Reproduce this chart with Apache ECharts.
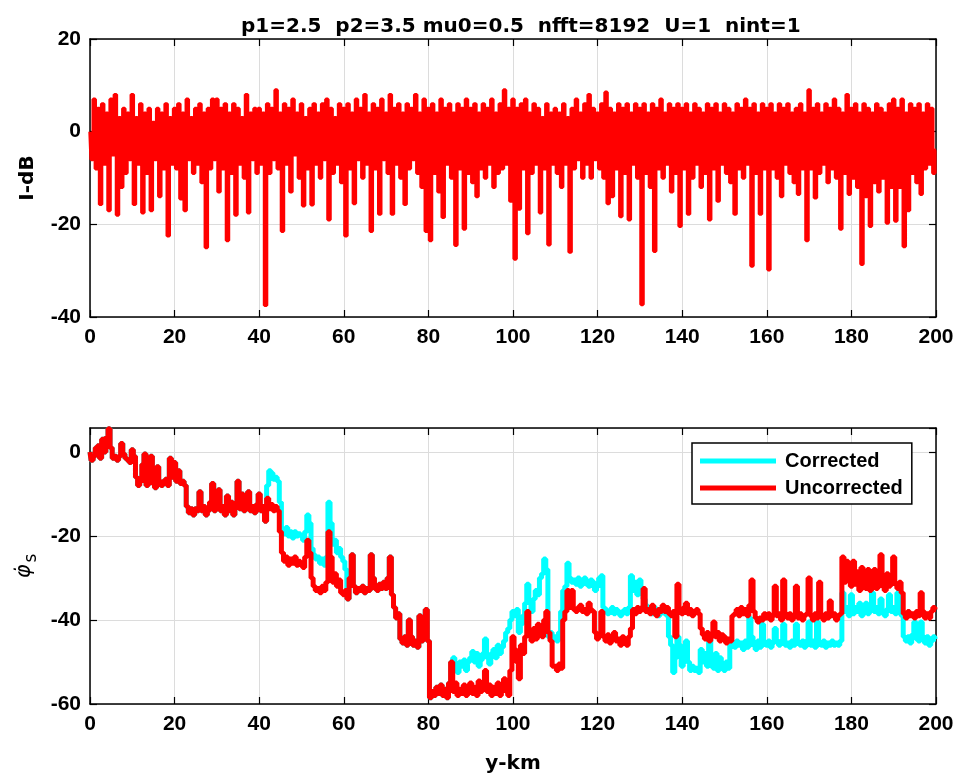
<!DOCTYPE html>
<html>
<head>
<meta charset="utf-8">
<script src="https://cdn.jsdelivr.net/npm/echarts@6/dist/echarts.min.js"></script>
<style>html,body{margin:0;padding:0;background:#fff}#c{width:958px;height:779px}</style>
</head>
<body>
<div id="c"></div>
<script>
// ---- data ----
const titleText = 'p1=2.5  p2=3.5 mu0=0.5  nfft=8192  U=1  nint=1';
const seriesNames = ['Corrected', 'Uncorrected'];
const stepTopKm = 0.5;      // sample spacing of intensity trace
const stepBottomKm = 0.5;   // sample spacing of phase traces

const intensityDb = [
  0,-6,7,-8,5,-15.7,6,-7,4,-17,7,-5,8,-18,3,-12,5,-9,4,-6,
  8,-15.7,3,-7,6,-17.5,4,-9,5,-17,2,-6,5,-14,4,-8,6,-22.5,3,-7,
  5,-8,6,-14.5,4,-17,7,-6,3,-9,5,-7,6,-11,4,-25,5,-8,7,-6,
  7,-13,5,-8,6,-23.5,4,-9,6,-18,5,-7,3,-10,8,-17.5,4,-6,5,-9,
  5,-7,4,-37.5,6,-9,5,-6,9,-8,4,-21.5,6,-7,5,-13,7,-5,4,-10,
  6,-16,3,-8,5,-15.8,6,-7,4,-10,6,-6,7,-19,5,-9,3,-7,6,-11,
  5,-22.5,6,-8,4,-15.5,7,-6,5,-10,8,-7,4,-21.5,6,-8,5,-17.8,7,-6,
  4,-9,8,-17.8,5,-7,6,-10,4,-15.7,6,-8,5,-6,8,-9,4,-12,7,-21.5,
  5,-23.5,6,-9,4,-13,7,-18.5,5,-7,6,-10,4,-24.5,6,-8,5,-21,7,-9,
  5,-11,6,-14,4,-8,6,-10,5,-7,7,-12,4,-9,6,-8,9,-7,5,-15,
  7,-27.5,5,-16.7,6,-8,7,-22,4,-9,6,-7,5,-17.5,3,-8,6,-24.4,4,-7,
  5,-9,4,-12,6,-7,3,-26,5,-8,7,-6,4,-10,6,-7,8,-10,5,-6,
  4,-8,6,-10,8.5,-15.5,5,-14,4,-8,6,-18.3,5,-9,6,-19,4,-7,6,-10,
  5,-37.3,6,-9,4,-12,6,-25.8,5,-8,7,-10,4,-7,6,-13,5,-9,6,-20.4,
  5,-8,6,-17.8,4,-10,6,-7,5,-12,4,-9,6,-19,5,-8,6,-15,4,-7,
  6,-9,5,-11,4,-17.8,6,-8,5,-10,7,-7,5,-29,6,-9,4,-17.8,6,-8,
  5,-29.8,6,-8,4,-10,6,-14,5,-7,6,-9,4,-11,5,-13.5,6,-8,4,-23.5,
  9,-8,5,-14.3,6,-9,4,-7,6,-11,5,-8,7,-10,5,-21,4,-9,8,-13.5,
  5,-10,6,-12,4,-28.6,6,-14,5,-20.4,4,-11,6,-13,5,-10,4,-19.7,6,-12,
  7,-19.3,5,-12,7,-24.8,4,-17,6,-9,5,-11,6,-13.5,4,-8,6,-7,5,-9,
  -4
];

const phaseUncorrected = [
  0,-2,-1,1,1.5,-1.5,3,0,3.5,5.5,1,-1.5,-1,-2,-1,2,-0.5,-1.5,-2,-2.5,
  0.5,-1,-6,-8,-7,-3,-0.5,-8,-6,-1,-7.5,-8.5,-3.5,-7,-8,-7,-6.5,-8,-1.5,-6,
  -2.5,-7,-4.5,-7.5,-7,-8,-13,-14.5,-13.5,-15,-13.5,-14,-9.5,-14,-13,-15,-14,-12,-7.5,-14,
  -13,-9,-14,-13,-15,-10.5,-14,-12,-15,-13,-7,-13.5,-10,-14,-13,-9.5,-14,-13,-14.5,-12.5,
  -10,-14,-13,-16.5,-11,-13.5,-12.5,-14,-13,-14,-19,-24,-26,-25,-27,-25.5,-26.5,-25,-27,-26,
  -26.5,-27.5,-25,-21,-24,-30,-32,-33,-32.5,-33.5,-32,-33,-31,-19,-25,-31,-29,-32,-30.5,-33.5,
  -34,-33,-35,-30,-24.5,-32,-33.5,-32.5,-33,-32,-33.5,-32.5,-33,-24.5,-30,-32.5,-33,-31.5,-32.5,-31,
  -32.5,-30,-25,-34,-37,-39.5,-38.5,-44.5,-45.5,-44,-46,-40,-44,-46,-45,-46.5,-39,-45,-44,-37.5,
  -45,-58.5,-57,-58,-56,-57.5,-55.5,-58,-56.5,-58.5,-55,-50,-57,-55,-58,-56.5,-57.5,-55.5,-58,-56,
  -55,-57.5,-56,-58,-54.5,-57,-55.5,-52,-57,-55.5,-58,-56,-57.5,-55,-58,-56,-54,-57,-58,-52,
  -44,-47,-50,-54,-46,-48,-44,-38,-43,-45,-42,-44.5,-41,-43,-44,-40,-38,-43,-45,-51,
  -51,-52,-50.5,-51.5,-40,-38,-33,-37,-33,-37.5,-38,-37,-36.5,-38,-37.5,-38.5,-36,-37.5,-38,-43,
  -44.5,-43.5,-38,-44,-45,-43.5,-45.5,-44,-43,-45,-44.5,-46,-44,-45.5,-46,-44,-42,-37.5,-38.5,-37,
  -38,-37,-32.5,-38,-37.5,-38.5,-36.5,-38,-39,-37.5,-38,-36.5,-38,-37,-38.5,-39,-38,-44,-31.5,-38,
  -38.5,-37,-36,-38.5,-37.5,-39,-38,-37.5,-38.5,-42,-43.5,-44.5,-43,-45,-44,-40.5,-44,-43,-45,-43.5,
  -44,-45.5,-44.5,-45,-39,-38.5,-37.5,-39,-37,-38.5,-37.5,-39,-36.5,-30.5,-38,-39.5,-40.5,-39.5,-40,-38.5,
  -39.5,-38.5,-40,-39,-32,-39,-38.5,-40,-30.5,-38.5,-39.5,-38.5,-40,-39,-32,-39.5,-38.5,-40,-39,-38.5,
  -30,-39,-40,-38.5,-39.5,-31,-39,-40,-38.5,-39.5,-35.5,-39,-38.5,-40,-39,-38.5,-25,-31,-26,-30.5,
  -32,-26,-31.5,-28.5,-33,-27.5,-31.5,-32.5,-28,-33,-31.5,-28,-32.5,-31,-24.5,-32,-33,-29,-32,-31,
  -25,-31.5,-32.5,-31,-33.5,-38.5,-39.5,-38,-39,-38.5,-39.5,-38,-39,-33.5,-38,-39.5,-38.5,-39.5,-38,-37,
  -37.5
];

const phaseCorrected = [
  0,-2,-1,1,1.5,-1.5,3,0,3.5,5.5,1,-1.5,-1,-2,-1,2,-0.5,-1.5,-2,-2.5,
  0.5,-1,-6,-8,-7,-3,-0.5,-8,-6,-1,-7.5,-8.5,-3.5,-7,-8,-7,-6.5,-8,-1.5,-6,
  -2.5,-7,-4.5,-7.5,-7,-8,-13,-14.5,-13.5,-15,-13.5,-14,-9.5,-14,-13,-15,-14,-12,-7.5,-14,
  -13,-9,-14,-13,-15,-10.5,-14,-12,-15,-13,-7,-13.5,-10,-14,-13,-9.5,-14,-13,-14.5,-12.5,
  -10,-14,-13,-16.5,-8,-4.5,-5,-6.5,-6,-7,-12,-18.5,-19.5,-18,-20,-19,-20.5,-19,-20,-19.5,
  -20,-21,-19,-15,-17,-23,-24.5,-25.5,-25,-26.5,-25.5,-27,-25,-12,-17,-22,-21,-24,-23,-25,
  -26,-28,-35,-30,-24.5,-32,-33.5,-32.5,-33,-32,-33.5,-32.5,-33,-24.5,-30,-32.5,-33,-31.5,-32.5,-31,
  -32.5,-30,-25,-34,-37,-39.5,-38.5,-44.5,-45.5,-44,-46,-40,-44,-46,-45,-46.5,-39,-45,-44,-37.5,
  -45,-58.5,-57,-58,-56,-57.5,-55.5,-58,-56.5,-58.5,-55,-50,-49,-51.5,-52.5,-50,-51,-49.5,-52,-50,
  -49,-47.5,-50,-48,-51,-49.5,-48,-44.5,-49,-50.5,-48,-47,-49,-46,-48,-46.5,-45,-43,-42,-40,
  -38,-39,-37.5,-43,-41,-39,-36,-31.5,-36,-38,-35,-33,-34,-30,-29,-25.5,-28,-44,-43,-44.5,
  -44,-45,-43,-38,-33,-32,-26.5,-30,-31,-30.5,-31.5,-30,-32,-31,-30,-31.5,-32,-30.5,-31,-33,
  -32,-30,-29.5,-37,-37.5,-38.5,-38,-37,-38.5,-37.5,-38,-39,-38,-37.5,-38.5,-37,-29.5,-33,-31,-34,
  -30.5,-33,-35,-36.5,-38,-37.5,-38.5,-37,-38,-39,-38,-37.5,-38.5,-39,-44,-46,-52.5,-49,-44,-46,
  -51,-50,-45,-50,-52,-51,-52,-51.5,-52.5,-47,-50,-48,-51,-44.5,-50,-51.5,-48,-52,-49,-51,
  -52,-50,-51.5,-46,-45.5,-46.5,-45,-46,-45.5,-47,-45,-46.5,-39.5,-44,-46,-47,-45,-46.5,-41,-45.5,
  -46,-45,-46.5,-45.5,-42,-45,-46,-45,-41,-46,-45.5,-46.5,-45,-46,-41,-45.5,-46,-45,-46.5,-45,
  -40.5,-46,-45,-46.5,-40.5,-45.5,-46,-45,-46.5,-45.5,-46,-45,-46,-45.5,-46,-45,-33.5,-38,-37,-39,
  -34,-38.5,-37,-38,-36,-39,-37.5,-36,-38.5,-37,-33.5,-38,-37,-38.5,-35,-38,-39,-37.5,-34,-38,
  -37,-38.5,-33.5,-38,-39,-44,-45,-44,-45.5,-43.5,-40.5,-44.5,-45,-40.5,-44,-45.5,-44,-46,-45,-44,
  -44.5
];

// ---- build chart ----
const toPairs = (arr, step) => arr.map((v, i) => [i * step, v]);

const tickFont = '"Liberation Sans", Arial, sans-serif';
const nameFont = '"DejaVu Sans", sans-serif';
const gridLine = { show: true, lineStyle: { color: '#dcdcdc', width: 1 } };
const axLine = { show: true, onZero: false, lineStyle: { color: '#000', width: 1.5 } };
const axTick = { show: true, inside: true, length: 7, lineStyle: { color: '#000', width: 1.2 } };
const axLabel = { color: '#000', fontFamily: tickFont, fontWeight: 'bold', fontSize: 21 };

function xAx(grid, pos, labels, extra) {
  return Object.assign({
    type: 'value', gridIndex: grid, position: pos, min: 0, max: 200, interval: 20,
    axisLine: axLine, axisTick: axTick, splitLine: labels ? gridLine : { show: false },
    axisLabel: labels ? Object.assign({ margin: 10 }, axLabel) : { show: false }
  }, extra || {});
}
function yAx(grid, pos, labels, min, max, extra) {
  return Object.assign({
    type: 'value', gridIndex: grid, position: pos, min: min, max: max, interval: 20,
    axisLine: axLine, axisTick: axTick, splitLine: labels ? gridLine : { show: false },
    axisLabel: labels ? Object.assign({ margin: 9, showMaxLabel: max % 20 === 0 }, axLabel) : { show: false }
  }, extra || {});
}

const chart = echarts.init(document.getElementById('c'), null, { renderer: 'canvas' });
chart.setOption({
  animation: false,
  backgroundColor: '#fff',
  title: {
    text: titleText, left: 236, top: 12,
    textStyle: { fontFamily: nameFont, fontWeight: 'bold', fontSize: 20, color: '#000' }
  },
  grid: [
    { left: 90, top: 39, width: 846, height: 278 },
    { left: 90, top: 428, width: 846, height: 276 }
  ],
  legend: {
    orient: 'vertical', left: 692, top: 443, data: seriesNames,
    icon: 'rect', itemWidth: 76, itemHeight: 5, itemGap: 7,
    padding: [8, 9, 6, 8], borderColor: '#000', borderWidth: 1.5, backgroundColor: '#fff',
    textStyle: { fontFamily: tickFont, fontWeight: 'bold', fontSize: 20, color: '#000', lineHeight: 20, padding: [0, 0, 0, 4] }
  },
  xAxis: [
    xAx(0, 'bottom', true),
    xAx(0, 'top', false),
    xAx(1, 'bottom', true, {
      name: 'y-km', nameLocation: 'middle', nameGap: 50,
      nameTextStyle: { fontFamily: nameFont, fontWeight: 'bold', fontSize: 20, color: '#000' }
    }),
    xAx(1, 'top', false)
  ],
  yAxis: [
    yAx(0, 'left', true, -40, 20, {
      name: 'I-dB', nameLocation: 'middle', nameGap: 52,
      nameTextStyle: { fontFamily: nameFont, fontWeight: 'bold', fontSize: 20, color: '#000' }
    }),
    yAx(0, 'right', false, -40, 20),
    yAx(1, 'left', true, -60, 5.7, {
      name: '{p|φ̇}{s|s}', nameLocation: 'middle', nameGap: 50,
      nameTextStyle: {
        color: '#000',
        rich: {
          p: { fontFamily: nameFont, fontSize: 21, fontStyle: 'italic', color: '#000', lineHeight: 26, verticalAlign: 'top' },
          s: { fontFamily: nameFont, fontSize: 17, color: '#000', lineHeight: 16, verticalAlign: 'bottom', padding: [0, 0, 0, 2] }
        }
      }
    }),
    yAx(1, 'right', false, -60, 5.7)
  ],
  series: [
    {
      type: 'line', xAxisIndex: 0, yAxisIndex: 0, data: toPairs(intensityDb, stepTopKm),
      step: 'middle', showSymbol: false, silent: true, color: '#ff0000',
      lineStyle: { color: '#ff0000', width: 3.4 }
    },
    {
      name: seriesNames[0], type: 'line', xAxisIndex: 2, yAxisIndex: 2, data: toPairs(phaseCorrected, stepBottomKm),
      step: 'middle', showSymbol: false, silent: true, color: '#00ffff',
      lineStyle: { color: '#00ffff', width: 5 }
    },
    {
      name: seriesNames[1], type: 'line', xAxisIndex: 2, yAxisIndex: 2, data: toPairs(phaseUncorrected, stepBottomKm),
      step: 'middle', showSymbol: false, silent: true, color: '#ff0000',
      lineStyle: { color: '#ff0000', width: 5 }
    }
  ]
});
</script>
</body>
</html>
